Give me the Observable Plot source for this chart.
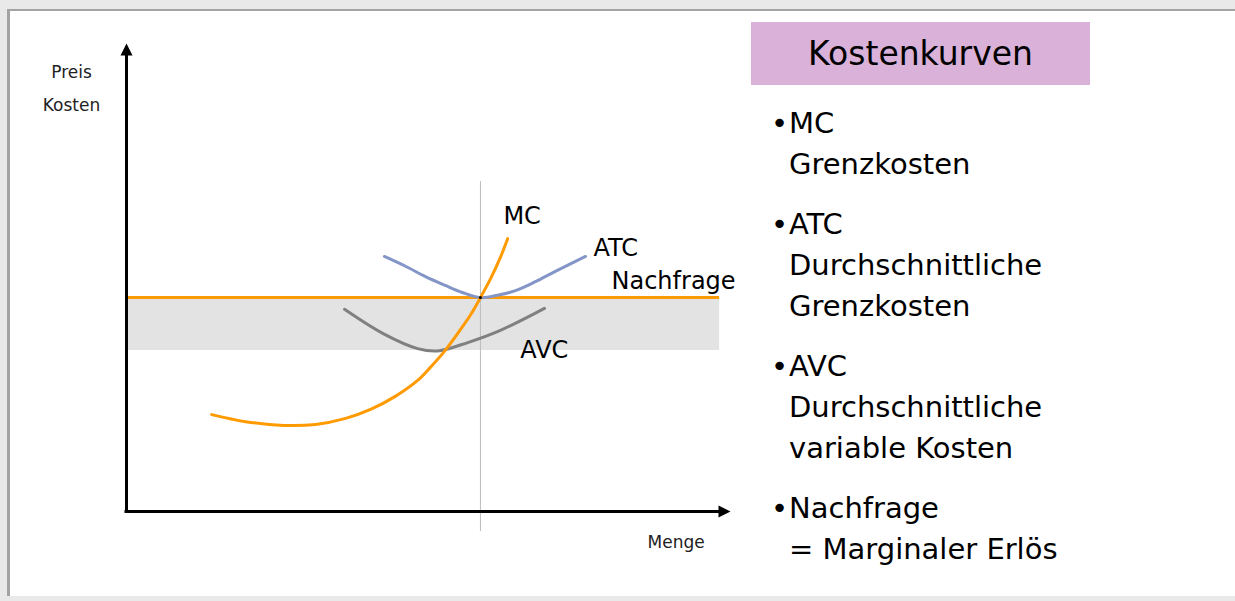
<!DOCTYPE html>
<html>
<head>
<meta charset="utf-8">
<script src="https://cdn.jsdelivr.net/npm/d3@7"></script>
<script src="https://cdn.jsdelivr.net/npm/@observablehq/plot@0.6"></script>
<style>
  html, body { margin: 0; padding: 0; }
  body { width: 1235px; height: 601px; background: #e9e9e9; position: relative; overflow: hidden; font-family: "DejaVu Sans", sans-serif; }
  #frame { position: absolute; left: 7px; top: 9px; right: 0; bottom: 5px; background: #fff; border-left: 3px solid #a3a3a3; border-top: 2px solid #a3a3a3; }
  #chart { position: absolute; left: 0; top: 0; }
  #title { position: absolute; left: 751px; top: 22px; width: 339px; height: 63px; background: #d9b1d9; color: #000; font-size: 33px; display: flex; align-items: center; justify-content: center; }
  #list { position: absolute; left: 789px; top: 103px; font-size: 29px; line-height: 41px; color: #000; }
  #list .item { position: relative; margin-bottom: 19px; white-space: nowrap; }
  #list .bullet { position: absolute; left: -18px; top: 0; }
</style>
</head>
<body>
<div id="frame"></div>
<div id="chart"></div>
<div id="title"></div>
<div id="list"></div>
<script>
// ---- data (quantity on x, price/cost on y, arbitrary 0-100 units) ----
const mcQ  = [14.1, 19.7, 26.0, 31.3, 36.3, 40.4, 44.5, 48.2, 50.3, 52.5, 55.3, 57.0, 58.6, 60.3, 61.9, 63.1];
const mcP  = [20.7, 19.2, 18.4, 18.6, 19.9, 21.8, 24.6, 28.0, 30.8, 34.0, 38.9, 42.1, 45.7, 49.8, 54.3, 58.3];
const atcQ = [42.7, 46.2, 49.5, 52.8, 55.6, 58.6, 61.4, 64.4, 67.7, 71.0, 76.0];
const atcP = [54.5, 52.4, 50.2, 48.3, 46.8, 45.7, 46.2, 47.2, 49.1, 51.3, 54.5];
const avcQ = [36.1, 42.5, 48.2, 51.5, 56.5, 61.9, 69.2];
const avcP = [43.2, 38.0, 34.8, 34.3, 36.1, 38.7, 43.4];
const demandPrice = [45.7];      // Nachfrage = marginal revenue
const demandQ = [0, 98.2];       // extent of demand line
const shutdownPrice = [34.4];    // lower edge of shaded band (AVC minimum)
const optimumQ = [58.6];         // quantity where MC = ATC = P
const optimumGuide = [-4.3, 70.5];
const axisMax = [100, 100];

const curveLabels = ["MC", "ATC", "Nachfrage", "AVC"];
const curveLabelQ = [62.4, 77.3, 80.3, 65.2];
const curveLabelP = [61.5, 54.5, 47.6, 32.7];
const axisLabels = ["Preis", "Kosten", "Menge"];
const axisLabelQ = [-9.1, -9.1, 91.0];
const axisLabelP = [92.7, 85.5, -7.8];

const titleText = "Kostenkurven";
const listItems = [
  ["MC", "Grenzkosten"],
  ["ATC", "Durchschnittliche", "Grenzkosten"],
  ["AVC", "Durchschnittliche", "variable Kosten"],
  ["Nachfrage", "= Marginaler Erlös"]
];

// ---- build tables ----
const mc = mcQ.map((q, i) => ({q, p: mcP[i]}));
const atc = atcQ.map((q, i) => ({q, p: atcP[i]}));
const avc = avcQ.map((q, i) => ({q, p: avcP[i]}));
const labels = curveLabels.map((t, i) => ({t, q: curveLabelQ[i], p: curveLabelP[i]}));
const axLabels = axisLabels.map((t, i) => ({t, q: axisLabelQ[i], p: axisLabelP[i]}));

const orange = "#ff9a00";

// custom filled arrowheads (anchored at the tip)
const arrowUp = {draw(ctx, size) { const r = Math.sqrt(size / Math.PI); ctx.moveTo(0, 0); ctx.lineTo(-r, 2 * r); ctx.lineTo(r, 2 * r); ctx.closePath(); }};
const arrowRight = {draw(ctx, size) { const r = Math.sqrt(size / Math.PI); ctx.moveTo(0, 0); ctx.lineTo(-2 * r, -r); ctx.lineTo(-2 * r, r); ctx.closePath(); }};

const chart = Plot.plot({
  width: 745,
  height: 601,
  marginLeft: 126,
  marginRight: 15,
  marginTop: 43,
  marginBottom: 90,
  x: {domain: [0, axisMax[0]], axis: null},
  y: {domain: [0, axisMax[1]], axis: null},
  style: {background: "transparent", fontFamily: "DejaVu Sans", overflow: "visible"},
  marks: [
    Plot.rect([0], {x1: demandQ[0], x2: demandQ[1], y1: shutdownPrice[0], y2: demandPrice[0], fill: "#e3e3e3"}),
    Plot.ruleX(optimumQ, {y1: optimumGuide[0], y2: optimumGuide[1], stroke: "#bdbdbd", strokeWidth: 1}),
    Plot.ruleY(demandPrice, {x1: demandQ[0], x2: demandQ[1], stroke: orange, strokeWidth: 3}),
    Plot.line(atc, {x: "q", y: "p", curve: "catmull-rom", stroke: "#8496c8", strokeWidth: 3}),
    Plot.line(avc, {x: "q", y: "p", curve: "catmull-rom", stroke: "#808080", strokeWidth: 3}),
    Plot.line(mc, {x: "q", y: "p", curve: "catmull-rom", stroke: orange, strokeWidth: 3}),
    Plot.dot([0], {x: optimumQ[0], y: demandPrice[0], r: 1.5, fill: "#000"}),
    Plot.ruleX([0], {y1: 0, y2: axisMax[1] - 2, stroke: "#000", strokeWidth: 3, strokeLinecap: "square"}),
    Plot.ruleY([0], {x1: 0, x2: axisMax[0] - 2, stroke: "#000", strokeWidth: 3, strokeLinecap: "square"}),
    Plot.dot([0], {x: 0, y: axisMax[1], symbol: arrowUp, r: 6, fill: "#000", stroke: null}),
    Plot.dot([0], {x: axisMax[0], y: 0, symbol: arrowRight, r: 6, fill: "#000", stroke: null}),
    Plot.text(labels, {x: "q", y: "p", text: "t", textAnchor: "start", lineAnchor: "bottom", fontSize: 24, fill: "#000"}),
    Plot.text(axLabels, {x: "q", y: "p", text: "t", textAnchor: "middle", lineAnchor: "bottom", fontSize: 17, fill: "#222"})
  ]
});
document.getElementById("chart").appendChild(chart);

// ---- right-hand panel ----
document.getElementById("title").textContent = titleText;
const list = d3.select("#list");
listItems.forEach(lines => {
  const item = list.append("div").attr("class", "item");
  item.append("span").attr("class", "bullet").text("•");
  lines.forEach(l => item.append("div").text(l));
});
</script>
</body>
</html>
